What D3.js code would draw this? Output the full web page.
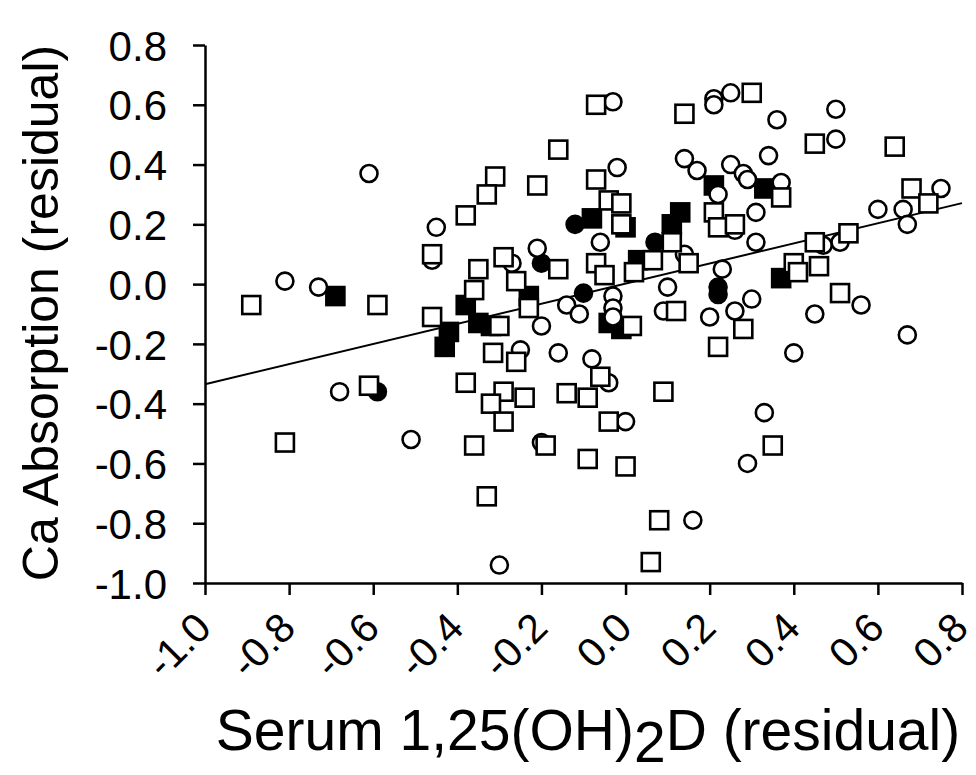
<!DOCTYPE html>
<html>
<head>
<meta charset="utf-8">
<script src="https://cdn.jsdelivr.net/npm/d3@7"></script>
<style>
  body { margin: 0; background: #fff; }
  svg text { font-family: "Liberation Sans", Arial, sans-serif; fill: #000; }
</style>
</head>
<body>
<svg id="chart" width="976" height="775"></svg>
<script>
// Residual data: [serum 1,25(OH)2D residual, Ca absorption residual]
const openCircles = [
    [-0.61, 0.37], [-0.45, 0.19], [-0.03, 0.61], [0.14, 0.42], [0.21, 0.62], [0.21, 0.60],
    [0.25, 0.64], [0.36, 0.55], [0.50, 0.585], [0.50, 0.485], [0.34, 0.43], [0.17, 0.38],
    [0.25, 0.40], [0.28, 0.37], [0.29, 0.35], [0.22, 0.30], [0.37, 0.34], [0.31, 0.24],
    [0.26, 0.18], [0.60, 0.25], [0.66, 0.25], [0.75, 0.32], [0.67, 0.20], [0.31, 0.14],
    [0.23, 0.05], [0.47, 0.13], [0.51, 0.14], [0.30, -0.05], [0.20, -0.11], [0.26, -0.09],
    [0.56, -0.07], [0.45, -0.10], [0.67, -0.17], [0.40, -0.23], [0.33, -0.43], [0.29, -0.60],
    [0.16, -0.79], [-0.30, -0.94], [-0.20, -0.53], [0.00, -0.46], [-0.04, -0.33], [-0.08, -0.25],
    [-0.16, -0.23], [-0.25, -0.22], [-0.51, -0.52], [-0.68, -0.36], [-0.81, 0.01], [-0.73, -0.01],
    [-0.46, 0.08], [-0.02, 0.39], [-0.06, 0.14], [-0.21, 0.12], [-0.27, 0.07], [-0.20, -0.14],
    [-0.14, -0.07], [-0.11, -0.10], [-0.03, -0.04], [-0.03, -0.08], [-0.03, -0.11], [0.10, -0.01],
    [0.09, -0.09], [0.14, 0.10]
];
const openSquares = [
    [-0.38, 0.23], [-0.07, 0.60], [0.14, 0.57], [-0.16, 0.45], [-0.31, 0.36], [-0.33, 0.30],
    [-0.21, 0.33], [-0.07, 0.35], [-0.04, 0.28], [-0.01, 0.27], [-0.01, 0.20], [0.30, 0.64],
    [0.45, 0.47], [0.64, 0.46], [0.37, 0.29], [0.21, 0.24], [0.22, 0.19], [0.26, 0.20],
    [0.53, 0.17], [0.68, 0.32], [0.72, 0.27], [0.45, 0.14], [0.40, 0.07], [0.41, 0.04],
    [0.46, 0.06], [0.51, -0.03], [0.28, -0.15], [0.22, -0.21], [0.35, -0.54], [0.08, -0.79],
    [0.06, -0.93], [0.09, -0.36], [-0.09, -0.585], [0.00, -0.61], [-0.19, -0.54], [-0.36, -0.54],
    [-0.33, -0.71], [-0.29, -0.36], [-0.32, -0.40], [-0.24, -0.38], [-0.29, -0.46], [-0.14, -0.365],
    [-0.09, -0.38], [-0.06, -0.31], [-0.04, -0.46], [-0.38, -0.33], [-0.61, -0.34], [-0.81, -0.53],
    [-0.89, -0.07], [-0.59, -0.07], [-0.46, 0.10], [-0.46, -0.11], [-0.35, 0.05], [-0.36, -0.02],
    [-0.29, 0.09], [-0.26, 0.01], [-0.23, -0.08], [-0.30, -0.14], [-0.315, -0.23], [-0.26, -0.26],
    [-0.16, 0.05], [-0.07, 0.07], [-0.05, 0.03], [0.02, 0.04], [0.11, 0.14], [0.065, 0.08],
    [0.15, 0.07], [0.12, -0.09], [0.015, -0.14]
];
const filledCircles = [
    [-0.59, -0.36], [-0.12, 0.20], [-0.20, 0.07], [-0.10, -0.03], [0.07, 0.14], [0.22, -0.01], [0.22, -0.035]
];
const filledSquares = [
    [-0.69, -0.04], [-0.42, -0.16], [-0.43, -0.21], [-0.38, -0.07], [-0.35, -0.13], [-0.32, -0.14],
    [-0.23, -0.04], [-0.08, 0.22], [0.00, 0.19], [0.13, 0.24], [0.11, 0.20], [0.03, 0.08],
    [0.21, 0.33], [0.33, 0.32], [0.37, 0.02], [-0.04, -0.13], [-0.01, -0.15]
];
// fitted regression line end points
const fitLine = [[-1.0, -0.335], [0.8, 0.271]];

const xTicks = [-1.0, -0.8, -0.6, -0.4, -0.2, 0.0, 0.2, 0.4, 0.6, 0.8];
const yTicks = [-1.0, -0.8, -0.6, -0.4, -0.2, 0.0, 0.2, 0.4, 0.6, 0.8];

const svg = d3.select('#chart');
svg.append('rect').attr('width', 976).attr('height', 775).attr('fill', '#fff');

const plotLeft = 205, plotRight = 962, plotTop = 45, plotBottom = 583;
const x = d3.scaleLinear().domain([-1.0, 0.8]).range([plotLeft, plotRight]);
const y = d3.scaleLinear().domain([-1.0, 0.8]).range([plotBottom, plotTop]);
const fmt = (d) => d.toFixed(1);

// Axes
const yAxis = svg.append('g').attr('transform', `translate(${plotLeft},0)`)
    .call(d3.axisLeft(y).tickValues(yTicks).tickSize(12).tickSizeOuter(0).tickFormat(fmt));
const xAxis = svg.append('g').attr('transform', `translate(0,${plotBottom})`)
    .call(d3.axisBottom(x).tickValues(xTicks).tickSize(12).tickSizeOuter(0).tickFormat(fmt));

[yAxis, xAxis].forEach((ax) => {
    ax.select('.domain').attr('stroke', '#000').attr('stroke-width', 2.5);
    ax.selectAll('.tick line').attr('stroke', '#000').attr('stroke-width', 2.5);
});
yAxis.selectAll('.tick text')
    .attr('font-size', 42).attr('x', -38).attr('dy', '0.36em');
xAxis.selectAll('.tick text')
    .attr('font-size', 41)
    .attr('text-anchor', 'end')
    .attr('x', null).attr('y', null).attr('dy', null)
    .attr('transform', 'translate(8,47) rotate(-45)');

// Regression line
svg.append('path')
    .datum(fitLine)
    .attr('d', d3.line().x((d) => x(d[0])).y((d) => y(d[1])))
    .attr('stroke', '#000').attr('stroke-width', 2).attr('fill', 'none');

// Markers
const half = 9;
const marks = svg.append('g').attr('stroke', '#000').attr('stroke-width', 2.6);
const drawSquares = (data, fill) => {
    marks.append('g').selectAll('rect').data(data).enter().append('rect')
        .attr('x', (d) => x(d[0]) - half).attr('y', (d) => y(d[1]) - half)
        .attr('width', half * 2).attr('height', half * 2)
        .attr('fill', fill);
};
const drawCircles = (data, fill) => {
    marks.append('g').selectAll('circle').data(data).enter().append('circle')
        .attr('cx', (d) => x(d[0])).attr('cy', (d) => y(d[1]))
        .attr('r', 8.5)
        .attr('fill', fill);
};
drawSquares(filledSquares, '#000');
drawCircles(filledCircles, '#000');
drawCircles(openCircles, '#fff');
drawSquares(openSquares, '#fff');

// Axis titles
svg.append('text')
    .attr('transform', 'translate(58,313) rotate(-90)')
    .attr('text-anchor', 'middle')
    .attr('font-size', 50)
    .text('Ca Absorption (residual)');

const xTitle = svg.append('text')
    .attr('x', 588).attr('y', 750)
    .attr('text-anchor', 'middle')
    .attr('font-size', 57);
xTitle.append('tspan').text('Serum 1,25(OH)');
xTitle.append('tspan').attr('dy', 12).text('2');
xTitle.append('tspan').attr('dy', -12).text('D (residual)');
</script>
</body>
</html>
